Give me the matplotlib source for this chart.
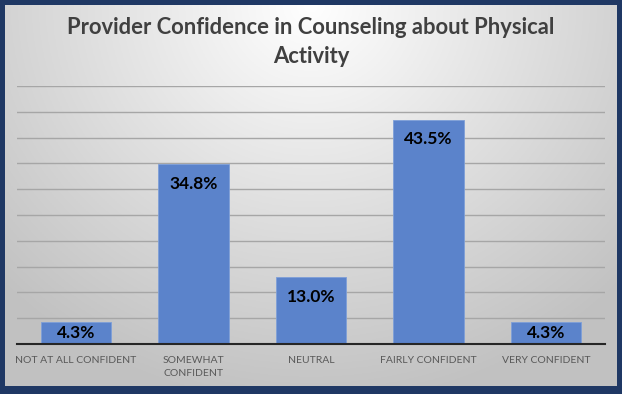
import numpy as np
import matplotlib
matplotlib.use("Agg")
import matplotlib.pyplot as plt

categories = ["NOT AT ALL CONFIDENT", "SOMEWHAT\nCONFIDENT", "NEUTRAL", "FAIRLY CONFIDENT", "VERY CONFIDENT"]
values = [4.3, 34.8, 13.0, 43.5, 4.3]
labels = ["4.3%", "34.8%", "13.0%", "43.5%", "4.3%"]
title = "Provider Confidence in Counseling about Physical\nActivity"

W, H = 622, 394
fig = plt.figure(figsize=(W / 100, H / 100), dpi=100, facecolor="#1F3864")

# background panel with radial gradient
bg = fig.add_axes([5 / W, 8 / H, 612 / W, 381 / H])
bg.set_axis_off()
yy, xx = np.mgrid[0:1:200j, 0:1:300j]
r = np.sqrt(((xx - 0.5) / 0.7) ** 2 + ((yy - 0.0) / 1.05) ** 2)
r = np.clip(r, 0, 1)
val = 1.0 - 0.24 * r
img = np.dstack([val, val, val])
bg.imshow(img, aspect="auto", extent=[0, 1, 0, 1], origin="upper")
bg.set_xlim(0, 1)
bg.set_ylim(0, 1)

ax = fig.add_axes([17 / W, 1 - 344 / H, 588 / W, 258 / H])
ax.set_facecolor("none")
x = np.arange(len(categories))
ax.bar(x, values, width=0.6, color="#5B83CB", edgecolor="#7E9FD8", linewidth=0.6, zorder=3)
ax.set_xlim(-0.5, len(categories) - 0.5)
ax.set_ylim(0, 50)
ax.set_yticks(np.arange(5, 51, 5))
ax.yaxis.grid(True, color="#A6A6A6", linewidth=1.0, zorder=0)
ax.tick_params(axis="y", left=False, labelleft=False)
ax.tick_params(axis="x", bottom=False, pad=5)
ax.set_xticks(x)
ax.set_xticklabels(categories, fontsize=7.5, color="#595959", family="Lato", va="top", linespacing=1.55)
for s in ["top", "right", "left"]:
    ax.spines[s].set_visible(False)
ax.spines["bottom"].set_color("#262626")
ax.spines["bottom"].set_linewidth(1.5)
ax.spines["bottom"].set_zorder(4)

for xi, v, t in zip(x, values, labels):
    y = max(v - 3.8, v / 2)
    ax.text(xi, y, t, ha="center", va="center", fontsize=12.5, fontweight="bold",
            color="black", family="Lato", zorder=5)

fig.text(0.5, 1 - 42 / H, title, ha="center", va="center", fontsize=15.8,
         fontweight="bold", color="#404040", family="Lato", linespacing=1.5)

fig.savefig("out.png", dpi=100, facecolor=fig.get_facecolor())
